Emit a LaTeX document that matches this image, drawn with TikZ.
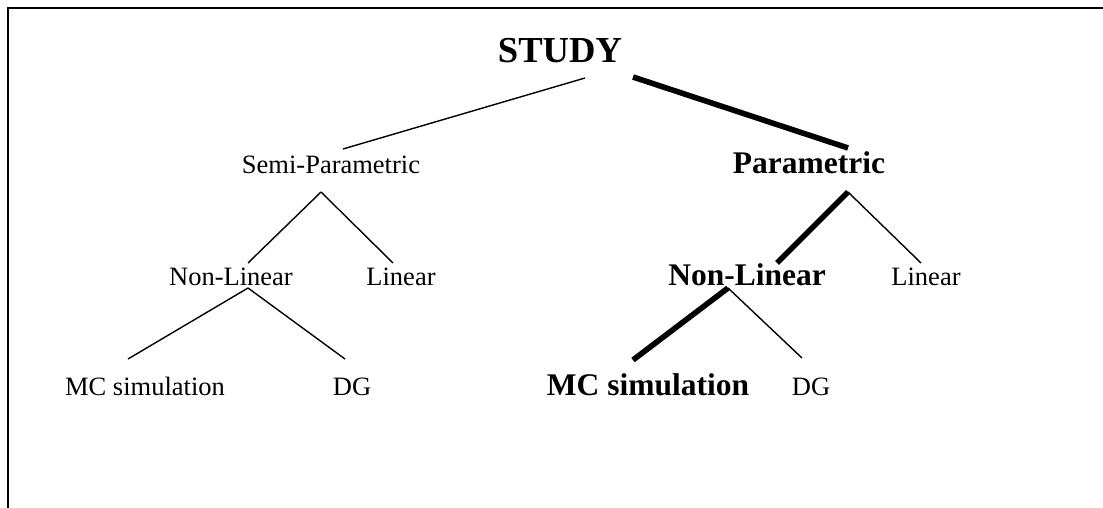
\documentclass[tikz,border=0pt]{standalone}
\usepackage{fontspec}
\setmainfont{Liberation Serif}
\usetikzlibrary{graphs}
\tikzset{
    plain/.style ={
        anchor=base,
        inner sep=0pt,
        font=\fontsize{13.25}{15}\selectfont
    },
    chosen/.style ={
        anchor=base,
        inner sep=0pt,
        font=\bfseries\fontsize{15.75}{18}\selectfont
    },
    branch/.style ={line width=0.7pt},
    route/.style ={line width=2.8pt}
}

\begin{document}
\begin{tikzpicture}[x=0.5pt,y=-0.5pt]
    \useasboundingbox (0,0) rectangle (1103,508);
    \draw[line width=1pt] (1103,8) -- (8,8) -- (8,508);

    \node[chosen,font=\bfseries\fontsize{18.3}{22}\selectfont] (study) at(560,63) {STUDY};
    \node[plain] (semi) at(331,174) {Semi-Parametric};
    \node[chosen] (param) at(809,174) {Parametric};
    \node[plain] (nonlinA) at(231,285) {Non-Linear};
    \node[plain] (linA) at(401,285) {Linear};
    \node[chosen] (nonlinB) at(747,285) {Non-Linear};
    \node[plain] (linB) at(926,285) {Linear};
    \node[plain] (mcA) at(145,395) {MC simulation};
    \node[plain] (dgA) at(352,395) {DG};
    \node[chosen] (mcB) at(648,395) {MC simulation};
    \node[plain] (dgB) at(811,395) {DG};

    % ends of the branches
    \coordinate (study-l) at(585,78);
    \coordinate (study-r) at(633,77);
    \coordinate (semi-in) at(343,149);
    \coordinate (param-in) at(848,148);
    \coordinate (semi-out) at(321,192);
    \coordinate (param-out) at(848,192);
    \coordinate (nonlinA-in) at(248,263);
    \coordinate (linA-in) at(393,263);
    \coordinate (nonlinB-in) at(777,263);
    \coordinate (linB-in) at(921,263);
    \coordinate (nonlinA-out) at(248,288);
    \coordinate (nonlinB-out) at(728,288);
    \coordinate (mcA-in) at(128,359);
    \coordinate (dgA-in) at(345,359);
    \coordinate (mcB-in) at(633,360);
    \coordinate (dgB-in) at(802,358);

    \graph[edges={branch}]{
        (study-l)--(semi-in);
        (study-r)--[route](param-in);
        (semi-out)--(nonlinA-in);
        (semi-out)--(linA-in);
        (param-out)--[route](nonlinB-in);
        (param-out)--(linB-in);
        (nonlinA-out)--(mcA-in);
        (nonlinA-out)--(dgA-in);
        (nonlinB-out)--[route](mcB-in);
        (nonlinB-out)--(dgB-in);
    };
\end{tikzpicture}
\end{document}
